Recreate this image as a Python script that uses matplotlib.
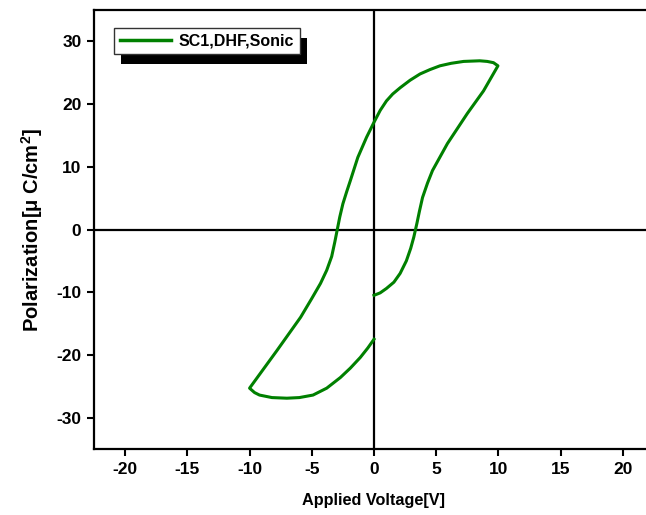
import matplotlib
matplotlib.use("Agg")
import matplotlib.pyplot as plt
import matplotlib.patheffects as pe

plt.rcParams['font.family'] = ['Liberation Sans', 'DejaVu Sans']
plt.rcParams['mathtext.fontset'] = 'custom'
plt.rcParams['mathtext.bf'] = 'Liberation Sans:bold'
plt.rcParams['mathtext.rm'] = 'Liberation Sans:bold'

# P-E loop: rising branch from (0,-10.5) to +10 V, falling branch to -10 V, return to 0 V
voltage = [0.0, 0.5, 1.0, 1.6, 2.1, 2.6, 2.95, 3.2, 3.45, 3.65, 3.9, 4.3, 4.7, 5.9, 7.5, 8.8, 9.96,
           9.6, 9.1, 8.5, 7.2, 6.2, 5.3, 4.5, 3.7, 2.9, 2.1, 1.5, 1.0, 0.5, 0.0, -0.6, -1.3,
           -1.9, -2.2, -2.5, -2.75, -2.95, -3.15, -3.4, -3.8, -4.3, -5.0, -5.9, -7.8, -10.0,
           -9.6, -9.2, -8.2, -7.0, -6.0, -4.9, -3.8, -2.7, -1.9, -1.1, -0.5, 0.0]
polarization = [-10.5, -10.1, -9.4, -8.4, -7.0, -5.0, -3.0, -1.2, 1.0, 2.9, 5.1, 7.4, 9.4, 13.7, 18.5, 22.1, 26.1,
                26.6, 26.8, 26.9, 26.8, 26.5, 26.1, 25.5, 24.8, 23.8, 22.6, 21.6, 20.5, 19.0, 17.1, 14.7, 11.5,
                7.8, 6.0, 4.1, 2.0, 0.0, -2.0, -4.3, -6.5, -8.6, -11.0, -14.0, -19.3, -25.3,
                -26.0, -26.4, -26.8, -26.9, -26.8, -26.4, -25.3, -23.6, -22.1, -20.4, -18.9, -17.5]

xticks = [-20, -15, -10, -5, 0, 5, 10, 15, 20]
yticks = [-30, -20, -10, 0, 10, 20, 30]

fig = plt.figure(figsize=(6.46, 5.15), dpi=100)
ax = fig.add_axes([94 / 646, 66 / 515, 560 / 646, 439 / 515])

ax.axhline(0, color="black", lw=1.6, zorder=1)
ax.axvline(0, color="black", lw=1.6, zorder=1)
ax.plot(voltage, polarization, color="#008000", lw=2.2, label="SC1,DHF,Sonic",
        solid_joinstyle="round", zorder=3)

ax.set_xlim(-22.5, 22.5)
ax.set_ylim(-35, 35)
ax.set_xticks(xticks)
ax.set_yticks(yticks)
ax.set_xticklabels([str(t) for t in xticks], fontweight="bold", fontsize=12.5)
ax.set_yticklabels([str(t) for t in yticks], fontweight="bold", fontsize=12.5)
ax.tick_params(direction="out", length=5, width=1.5, pad=4)
for s in ax.spines.values():
    s.set_linewidth(1.6)

ax.set_xlabel("Applied Voltage[V]", fontweight="bold", fontsize=11.7, labelpad=12)
ax.set_ylabel("Polarization[μ C/cm$^{\\mathbf{2}}$]", fontweight="bold",
              fontsize=14.5, labelpad=8)

leg = ax.legend(loc="upper left", bbox_to_anchor=(0.036, 0.959), borderaxespad=0,
                fancybox=False, framealpha=1, edgecolor="#333333",
                prop={"weight": "bold", "size": 11.5}, handlelength=3.2,
                handletextpad=0.5, borderpad=0.35)
frame = leg.get_frame()
frame.set_linewidth(1.0)
frame.set_path_effects([pe.SimplePatchShadow(offset=(5, -7), shadow_rgbFace="black", alpha=1),
                        pe.Normal()])
leg.get_lines()[0].set_linewidth(2.5)

fig.savefig("out.png", dpi=100)
plt.close(fig)
